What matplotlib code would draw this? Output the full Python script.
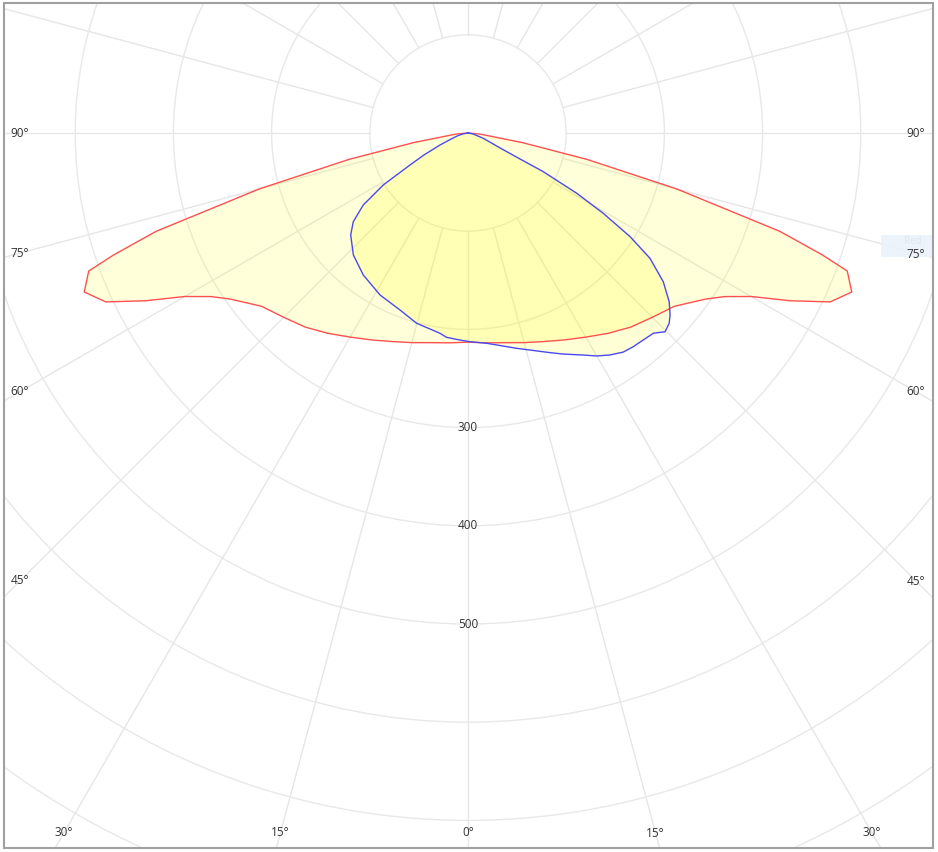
import numpy as np
import matplotlib
matplotlib.use("Agg")
import matplotlib.pyplot as plt
from matplotlib.patches import Rectangle

# ---- data (angle from nadir in degrees, luminous intensity) ----
red_angles = [0, 5, 10, 15, 20, 25, 30, 35, 40, 45, 50, 55, 57.5, 60, 62.5, 65,
              67.5, 70, 71, 72.5, 75, 77.5, 80, 85, 90]
red_values = [213, 214.5, 216.8, 221, 226, 232.5, 240, 249, 258, 265.4, 274.5, 295,
              310, 333, 370, 407, 423, 411, 382, 333, 220, 124, 56, 12, 0]

blue_angles = [-90, -80, -75, -70, -66.8, -63.5, -61.1, -58.5, -55.5, -52.3, -49,
               -43.2, -36.4, -28.5, -21, -15.1, -8, -6, -2.2, 0.5, 5.1, 12.75, 15.9,
               20.5, 23.3, 27.45, 30, 32.6, 35.3, 37.7, 40.3, 42.8, 44.75, 46.6, 48,
               50, 52.7, 55.45, 57.4, 59.3, 61, 62.8, 63.5, 65, 70.9, 80, 90]
blue_values = [0, 5, 11, 19, 31, 50, 67.5, 101, 129.4, 147.6, 158.3, 170.5, 179.7,
               187.7, 193.1, 200.7, 205.9, 209.2, 211, 212.5, 215, 224.8, 229.8,
               238.8, 245.1, 254.8, 262.2, 268.3, 273.4, 275.1, 276.2, 277.9, 285,
               282, 276.9, 267.5, 250, 225, 195.9, 160.2, 126.6, 86.2, 58, 36, 16.5,
               5, 0]

ring_values = [100, 200, 300, 400, 500, 600, 700, 800, 900]
ring_labels = {300: "300", 400: "400", 500: "500"}
spoke_step = 15
angle_labels = [-90, -75, -60, -45, -30, -15, 0, 15, 30, 45, 60, 90]

# ---- geometry ----
W, H = 938, 852
CX, CY = 468, 133           # pixel centre (from top)
SCALE = 0.982               # pixels per unit
RMAX = 900
R_px = RMAX * SCALE
FONT = ["Open Sans", "DejaVu Sans"]

fig = plt.figure(figsize=(W / 100, H / 100), dpi=100)
fig.patch.set_facecolor("white")
ax = fig.add_axes([(CX - R_px) / W, (H - CY - R_px) / H, 2 * R_px / W, 2 * R_px / H],
                  projection="polar")
ax.set_theta_zero_location("S")
ax.set_theta_direction(1)
ax.set_rlim(0, RMAX)
ax.set_rticks(ring_values)
ax.set_yticklabels([])
ax.set_xticks([])
ax.spines["polar"].set_visible(False)
ax.yaxis.grid(True, color="#e8e8e8", lw=1.0)
ax.xaxis.grid(False)

# spokes from inner ring outward
for a in range(0, 360, spoke_step):
    t = np.deg2rad(a)
    ax.plot([t, t], [100, RMAX], color="#e6e6e6", lw=1.0, zorder=1)

# curves
rt = np.deg2rad(np.concatenate([-np.array(red_angles[::-1]), np.array(red_angles[1:])]))
rv = np.concatenate([np.array(red_values[::-1]), np.array(red_values[1:])])
bt = np.deg2rad(np.array(blue_angles))
bv = np.array(blue_values)

ax.fill(rt, rv, color="#ffff00", alpha=0.15, lw=0, zorder=2)
ax.fill(bt, bv, color="#ffff00", alpha=0.16, lw=0, zorder=2)
ax.plot(rt, rv, color="#ff5050", lw=1.0, zorder=3)
ax.plot(bt, bv, color="#4a4af0", lw=1.0, zorder=3)

# ring labels
for v, s in ring_labels.items():
    ax.text(0, v, s, ha="center", va="center", fontsize=8.5, color="#333333",
            family=FONT, zorder=5)

# angle labels placed where the spokes meet an inset rectangle
half_w = 448
bottom_d = 700
for a in angle_labels:
    s, c = np.sin(np.deg2rad(a)), np.cos(np.deg2rad(a))
    cands = []
    if abs(s) > 1e-9:
        cands.append(half_w / abs(s))
    if c > 1e-9:
        cands.append(bottom_d / c)
    rpx = min(cands)
    ax.text(np.deg2rad(a), rpx / SCALE, f"{abs(a)}°", ha="center", va="center",
            fontsize=8.5, color="#333333", family=FONT, zorder=5)

# faint cut-off legend box on the right (behind the right 75° label)
fig.add_artist(Rectangle((881 / W, 1 - 257 / H), 52 / W, 22 / H, transform=fig.transFigure,
                         facecolor="#eaf2fb", edgecolor="none", zorder=4, alpha=0.9))
fig.text(904 / W, 1 - 241 / H, "Red", fontsize=7, color="#dfe6ef", ha="left",
         va="center", zorder=5, family=FONT)
fig.text(916 / W, 1 - 255 / H, "75°", fontsize=8.5, color="#333333", ha="center",
         va="center", zorder=6, family=FONT)

# mask outside frame and draw frame
L, T, Rr, B = 4, 3, 933, 848
masks = [(0, 0, L, H), (Rr, 0, W - Rr, H), (0, 0, W, T), (0, B, W, H - B)]
for x, y, w, h in masks:
    fig.add_artist(Rectangle((x / W, 1 - (y + h) / H), w / W, h / H,
                             transform=fig.transFigure, facecolor="white",
                             edgecolor="none", zorder=10))
fig.add_artist(Rectangle((L / W, 1 - B / H), (Rr - L) / W, (B - T) / H,
                         transform=fig.transFigure, facecolor="none",
                         edgecolor="#a0a0a0", lw=1.5, zorder=11))

fig.savefig("out.png", dpi=100, facecolor="white")
